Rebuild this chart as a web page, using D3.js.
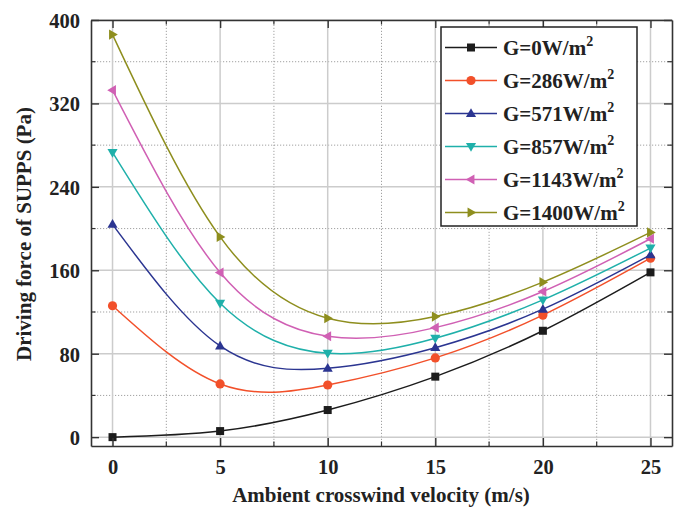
<!DOCTYPE html>
<html>
<head>
<meta charset="utf-8">
<script src="https://cdn.jsdelivr.net/npm/d3@7/dist/d3.min.js"></script>
<style>
	html, body { margin: 0; padding: 0; background: #fff; }
	svg text { font-family: "Liberation Serif", "Times New Roman", serif; font-weight: bold; fill: #222; }
</style>
</head>
<body>
<div id="chart"><svg></svg></div>
<script>
// values
const velocity = [0, 5, 10, 15, 20, 25];
const g0 = [0, 5.8, 26, 58, 102, 158];
const g286 = [126, 51, 50, 76, 117, 171.6];
const g571 = [204, 87.4, 66, 85.8, 122.7, 174.8];
const g857 = [273, 128.4, 80.4, 94.8, 131.6, 181.3];
const g1143 = [332.7, 157.8, 96.7, 105, 139.6, 190.2];
const g1400 = [386, 192, 114, 115.6, 148.6, 196.3];
const seriesNames = ['0', '286', '571', '857', '1143', '1400'];
const xTicks = [0, 5, 10, 15, 20, 25];
const yTicks = [0, 80, 160, 240, 320, 400];

const colors = ['#1c1c1c', '#f2502a', '#2b3591', '#1fb0aa', '#d060b4', '#8e8e1e'];
const symbols = ['square', 'circle', 'up', 'down', 'left', 'right'];
const seriesValues = [g0, g286, g571, g857, g1143, g1400];

const width = 678;
const height = 509;
const m = { left: 91, right: 6, top: 20, bottom: 63 };

const $svg = d3.select('#chart svg').attr('width', width).attr('height', height);

const x = d3.scaleLinear().domain([-1, 26]).range([m.left, width - m.right]);
const y = d3.scaleLinear().domain([-8.5, 400]).range([height - m.bottom, m.top]);

function marker(sel, type, color) {
	const s = 4.6;
	if (type === 'square') {
		sel.append('rect').attr('x', -4).attr('y', -4).attr('width', 8).attr('height', 8).attr('fill', color);
	} else if (type === 'circle') {
		sel.append('circle').attr('r', 4.6).attr('fill', color);
	} else {
		const rot = { up: 0, down: 180, left: -90, right: 90 }[type];
		sel.append('path')
			.attr('d', `M0,${-s * 1.15}L${s * 1.1},${s * 0.75}L${-s * 1.1},${s * 0.75}Z`)
			.attr('transform', `rotate(${rot})`)
			.attr('fill', color);
	}
}

function drawGrid() {
	const $grid = $svg.append('g');
	const minorX = d3.range(2.5, 26, 5);
	const minorY = d3.range(40, 400, 80);

	$grid.selectAll('.mx').data(minorX).enter().append('line')
		.attr('x1', d => x(d)).attr('x2', d => x(d))
		.attr('y1', y.range()[0]).attr('y2', y.range()[1])
		.attr('stroke', '#8a8a8a').attr('stroke-width', 0.8).attr('stroke-dasharray', '1.2,1.8');
	$grid.selectAll('.my').data(minorY).enter().append('line')
		.attr('x1', x.range()[0]).attr('x2', x.range()[1])
		.attr('y1', d => y(d)).attr('y2', d => y(d))
		.attr('stroke', '#8a8a8a').attr('stroke-width', 0.8).attr('stroke-dasharray', '1.2,1.8');
	$grid.selectAll('.Mx').data(xTicks).enter().append('line')
		.attr('x1', d => x(d)).attr('x2', d => x(d))
		.attr('y1', y.range()[0]).attr('y2', y.range()[1])
		.attr('stroke', '#cccccc').attr('stroke-width', 1.5);
	$grid.selectAll('.My').data(yTicks).enter().append('line')
		.attr('x1', x.range()[0]).attr('x2', x.range()[1])
		.attr('y1', d => y(d)).attr('y2', d => y(d))
		.attr('stroke', '#cccccc').attr('stroke-width', 1.5);
}

function drawAxes() {
	const minorX = d3.range(2.5, 26, 5);
	const minorY = d3.range(40, 400, 80);
	const axes = [
		d3.axisBottom(x).tickValues(xTicks),
		d3.axisTop(x).tickValues(xTicks),
		d3.axisLeft(y).tickValues(yTicks),
		d3.axisRight(y).tickValues(yTicks)
	];
	const pos = [
		`translate(0,${y.range()[0]})`,
		`translate(0,${y.range()[1]})`,
		`translate(${x.range()[0]},0)`,
		`translate(${x.range()[1]},0)`
	];
	axes.forEach((ax, i) => {
		const $a = $svg.append('g').attr('transform', pos[i])
			.call(ax.tickSizeInner(-8).tickSizeOuter(0));
		$a.select('.domain').attr('stroke', '#333').attr('stroke-width', 1.6);
		$a.selectAll('.tick line').attr('stroke', '#333').attr('stroke-width', 1.4);
		const $t = $a.selectAll('.tick text').style('font-size', '20.5px').attr('fill', '#222')
			.style('font-family', '"Liberation Serif", serif').style('font-weight', 'bold');
		if (i === 1 || i === 3) $t.remove();
		if (i === 0) $t.attr('y', 28).attr('dy', 0);
		if (i === 2) $t.attr('x', -11).attr('dy', '0.36em');

		const minor = i < 2 ? minorX : minorY;
		const horiz = i < 2;
		const dir = [-1, 1, 1, -1][i];
		$a.selectAll('.minor').data(minor).enter().append('line')
			.attr('x1', d => horiz ? x(d) : 0).attr('x2', d => horiz ? x(d) : 4.5 * dir)
			.attr('y1', d => horiz ? 0 : y(d)).attr('y2', d => horiz ? 4.5 * dir : y(d))
			.attr('stroke', '#333').attr('stroke-width', 1.2);
	});

	$svg.append('text')
		.attr('x', 381).attr('y', 502)
		.attr('text-anchor', 'middle').style('font-size', '21px')
		.text('Ambient crosswind velocity (m/s)');
	$svg.append('text')
		.attr('transform', `translate(31,234) rotate(-90)`)
		.attr('text-anchor', 'middle').style('font-size', '21px')
		.text('Driving force of SUPPS (Pa)');
}

function drawSeries() {
	const line = d3.line()
		.x((d, i) => x(velocity[i]))
		.y(d => y(d))
		.curve(d3.curveNatural);

	seriesValues.forEach((vals, k) => {
		const $g = $svg.append('g');
		$g.append('path').attr('d', line(vals))
			.attr('fill', 'none').attr('stroke', colors[k]).attr('stroke-width', 1.5);
		vals.forEach((v, i) => {
			$g.append('g').attr('transform', `translate(${x(velocity[i])},${y(v)})`)
				.call(marker, symbols[k], colors[k]);
		});
	});
}

function drawLegend() {
	const $l = $svg.append('g');
	$l.append('rect').attr('x', 441).attr('y', 27).attr('width', 196).attr('height', 199)
		.attr('fill', '#fff').attr('stroke', '#222').attr('stroke-width', 1.5);
	seriesNames.forEach((name, k) => {
		const cy = 47.5 + k * 33;
		$l.append('line').attr('x1', 445).attr('x2', 497).attr('y1', cy).attr('y2', cy)
			.attr('stroke', colors[k]).attr('stroke-width', 1.5);
		$l.append('g').attr('transform', `translate(471,${cy})`).call(marker, symbols[k], colors[k]);
		const $t = $l.append('text').attr('x', 503).attr('y', cy + 7).style('font-size', '21px');
		$t.append('tspan').text(`G=${name}W/m`);
		$t.append('tspan').attr('dy', -9).style('font-size', '14px').text('2');
	});
}

function init() {
	drawGrid();
	drawSeries();
	drawAxes();
	drawLegend();
}

init();
</script>
</body>
</html>
